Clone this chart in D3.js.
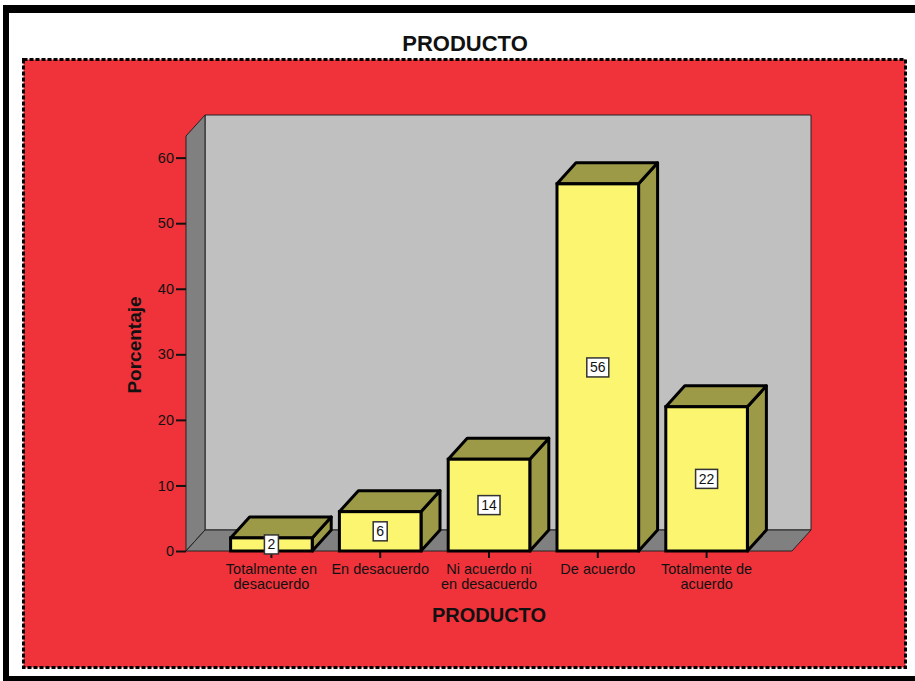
<!DOCTYPE html>
<html>
<head>
<meta charset="utf-8">
<script src="https://cdn.jsdelivr.net/npm/d3@7"></script>
<style>
  html, body { margin: 0; padding: 0; background: #ffffff; }
  svg { display: block; font-family: Arial, "Liberation Sans", sans-serif; }
</style>
</head>
<body>
<svg id="chart" width="915" height="681"></svg>
<script>
// Survey responses for PRODUCTO (percent)
const categories = [
  ["Totalmente en", "desacuerdo"],
  ["En desacuerdo"],
  ["Ni acuerdo ni", "en desacuerdo"],
  ["De acuerdo"],
  ["Totalmente de", "acuerdo"]
];
const values = [2, 6, 14, 56, 22];
const yTicks = [0, 10, 20, 30, 40, 50, 60];
const chartTitle = "PRODUCTO";
const xTitle = "PRODUCTO";
const yTitle = "Porcentaje";

const svg = d3.select("#chart");
const ink = "#111";

// outer frame
svg.append("rect").attr("x", 3).attr("y", 5).attr("width", 912).attr("height", 8).attr("fill", "#000");
svg.append("rect").attr("x", 3).attr("y", 5).attr("width", 6).attr("height", 676).attr("fill", "#000");
svg.append("rect").attr("x", 3).attr("y", 676).attr("width", 912).attr("height", 5).attr("fill", "#000");

// chart title
svg.append("text").attr("x", 465).attr("y", 51).attr("text-anchor", "middle")
  .attr("font-size", 22).attr("font-weight", "bold").attr("fill", ink).text(chartTitle);

// red panel with dashed border
svg.append("rect").attr("x", 23.5).attr("y", 59.5).attr("width", 882).attr("height", 608)
  .attr("fill", "#f0333b").attr("stroke", "#000").attr("stroke-width", 3)
  .attr("stroke-dasharray", "4,2");

// scales
const depthX = 19, depthY = -21;
const x = d3.scaleBand().domain(d3.range(values.length)).range([186, 792])
  .paddingInner(0.25).paddingOuter(0.41);
const y = d3.scaleLinear().domain([0, 63.3]).range([551, 136]);
const y0 = y(0), yTop = y(63.3);
const xL = x.range()[0], xR = x.range()[1];

const wall = svg.append("g").attr("stroke", "#222").attr("stroke-width", 1).attr("stroke-linejoin", "round");
// back wall
wall.append("polygon").attr("fill", "#c0c0c0").attr("points", [
  [xL + depthX, yTop + depthY], [xR + depthX, yTop + depthY],
  [xR + depthX, y0 + depthY], [xL + depthX, y0 + depthY]].join(" "));
// left side wall
wall.append("polygon").attr("fill", "#808080").attr("points", [
  [xL, yTop], [xL + depthX, yTop + depthY], [xL + depthX, y0 + depthY], [xL, y0]].join(" "));
// floor
wall.append("polygon").attr("fill", "#808080").attr("points", [
  [xL, y0], [xL + depthX, y0 + depthY], [xR + depthX, y0 + depthY], [xR, y0]].join(" "));

// y axis
const yAxis = svg.append("g").attr("transform", `translate(${xL},0)`)
  .call(d3.axisLeft(y).tickValues(yTicks).tickSize(10).tickPadding(2).tickFormat(d3.format("d")));
yAxis.select(".domain").remove();
yAxis.selectAll(".tick line").attr("stroke", ink).attr("stroke-width", 2);
yAxis.selectAll(".tick text").attr("font-size", 14.5).attr("fill", ink).attr("font-family", "Arial, 'Liberation Sans', sans-serif");

// x axis
const xAxis = svg.append("g").attr("transform", `translate(0,${y0})`)
  .call(d3.axisBottom(x).tickSize(7).tickFormat(""));
xAxis.select(".domain").remove();
xAxis.selectAll(".tick line").attr("stroke", ink).attr("stroke-width", 2);
xAxis.selectAll(".tick").each(function(d) {
  const t = d3.select(this).append("text").attr("text-anchor", "middle")
    .attr("font-size", 14.5).attr("fill", ink);
  categories[d].forEach((line, i) => {
    t.append("tspan").attr("x", 0).attr("y", 23 + i * 15).text(line);
  });
});

// bars
const bars = svg.append("g").selectAll("g").data(values).join("g");
bars.each(function(v, i) {
  const g = d3.select(this);
  const x0 = x(i), x1 = x(i) + x.bandwidth(), yv = y(v);
  const stroke = { stroke: "#000", w: 3 };
  g.append("polygon").attr("fill", "#9d9a47").attr("stroke", stroke.stroke)
    .attr("stroke-width", stroke.w).attr("stroke-linejoin", "round")
    .attr("points", [[x1, yv], [x1 + depthX, yv + depthY], [x1 + depthX, y0 + depthY], [x1, y0]].join(" "));
  g.append("polygon").attr("fill", "#9d9a47").attr("stroke", stroke.stroke)
    .attr("stroke-width", stroke.w).attr("stroke-linejoin", "round")
    .attr("points", [[x0, yv], [x0 + depthX, yv + depthY], [x1 + depthX, yv + depthY], [x1, yv]].join(" "));
  g.append("rect").attr("x", x0).attr("y", yv).attr("width", x1 - x0).attr("height", y0 - yv)
    .attr("fill", "#fbf56f").attr("stroke", stroke.stroke).attr("stroke-width", stroke.w);

  // value label box
  const cx = (x0 + x1) / 2, cy = (yv + y0) / 2;
  const label = String(v);
  const w = 8 * label.length + 6, h = 19;
  g.append("rect").attr("x", cx - w / 2).attr("y", cy - h / 2).attr("width", w).attr("height", h)
    .attr("fill", "#fff").attr("stroke", "#333").attr("stroke-width", 1.5);
  g.append("text").attr("x", cx).attr("y", cy + 5).attr("text-anchor", "middle")
    .attr("font-size", 14).attr("fill", ink).text(label);
});

// axis titles
svg.append("text").attr("x", 489).attr("y", 622).attr("text-anchor", "middle")
  .attr("font-size", 20).attr("font-weight", "bold").attr("fill", ink).text(xTitle);
svg.append("text").attr("transform", "translate(141,345) rotate(-90)").attr("text-anchor", "middle")
  .attr("font-size", 19).attr("font-weight", "bold").attr("fill", ink).text(yTitle);
</script>
</body>
</html>
